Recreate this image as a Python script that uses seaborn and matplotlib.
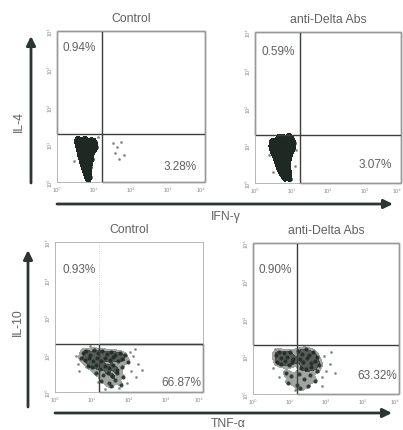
import numpy as np
import pandas as pd
import matplotlib
matplotlib.use("Agg")
import matplotlib.pyplot as plt
from matplotlib.colors import ListedColormap
import seaborn as sns

sns.set_theme(style="white")
plt.rcParams['font.family'] = ['Liberation Sans', 'DejaVu Sans']

# ---- data (log10 fluorescence, in decades) ----
titles = ["Control", "anti-Delta Abs", "Control", "anti-Delta Abs"]
x_markers = ["IFN-γ", "TNF-α"]
y_markers = ["IL-4", "IL-10"]
ul_pct = [0.94, 0.59, 0.93, 0.90]
lr_pct = [3.28, 3.07, 66.87, 63.32]
gate_x = [1.22, 1.22, 1.19, 1.20]
gate_y = [1.27, 1.27, 1.28, 1.30]
decade_labels = ["10⁰", "10¹", "10²", "10³", "10⁴"]

# IL-4 / IFN-γ, control
p1_core_x = [0.52, 0.60, 0.71, 0.80, 0.93, 1.03, 0.55, 0.66, 0.74, 0.86, 0.97, 1.06,
             0.58, 0.69, 0.79, 0.88, 0.99, 0.61, 0.72, 0.83, 0.93, 0.64, 0.75, 0.84,
             0.94, 0.68, 0.78, 0.88, 0.71, 0.81, 0.89, 0.76, 0.86, 0.80, 0.88, 0.84]
p1_core_y = [1.10, 1.13, 1.08, 1.12, 1.09, 1.05, 0.99, 0.97, 1.01, 0.96, 0.98, 0.93,
             0.87, 0.84, 0.88, 0.85, 0.86, 0.74, 0.76, 0.72, 0.75, 0.63, 0.61, 0.64,
             0.60, 0.51, 0.49, 0.52, 0.39, 0.37, 0.40, 0.27, 0.25, 0.15, 0.13, 0.05]
p1_sparse_x = [1.52, 1.62, 1.72, 1.58, 1.80, 1.68, 0.45, 1.12]
p1_sparse_y = [1.02, 0.92, 1.06, 0.78, 0.72, 0.62, 0.55, 1.20]

# IL-4 / IFN-γ, anti-Delta
p2_core_x = [0.66, 0.78, 0.92, 1.00, 0.46, 0.57, 0.69, 0.81, 0.93, 1.07, 0.43, 0.55,
             0.67, 0.79, 0.91, 1.04, 0.50, 0.62, 0.74, 0.86, 0.98, 0.56, 0.68, 0.80,
             0.94, 0.61, 0.73, 0.88, 0.66, 0.78, 0.90, 0.72, 0.84, 0.93, 0.80, 0.95]
p2_core_y = [1.20, 1.18, 1.21, 1.16, 1.08, 1.06, 1.10, 1.07, 1.09, 1.05, 0.95, 0.92,
             0.96, 0.93, 0.97, 0.94, 0.82, 0.80, 0.84, 0.79, 0.81, 0.68, 0.66, 0.70,
             0.65, 0.53, 0.51, 0.55, 0.40, 0.42, 0.38, 0.28, 0.26, 0.29, 0.13, 0.11]
p2_sparse_x = [0.38, 1.12, 0.50, 1.10]
p2_sparse_y = [0.75, 0.88, 0.30, 0.45]

# IL-10 / TNF-α, control
p3_core_x = [0.75, 0.85, 0.95, 1.05, 1.15, 1.28, 1.40, 1.52, 1.62, 1.75, 1.88,
             0.70, 0.82, 0.93, 1.03, 1.14, 1.25, 1.36, 1.48, 1.58, 1.70, 1.82, 1.98,
             0.88, 1.00, 1.12, 1.22, 1.34, 1.46, 1.56, 1.68, 1.80,
             1.10, 1.30, 1.42, 1.55, 1.68, 1.85, 1.25, 1.45, 1.62, 1.78, 1.50]
p3_core_y = [1.05, 1.10, 1.00, 1.12, 1.05, 1.10, 1.02, 1.08, 1.00, 1.05, 0.98,
             0.90, 0.85, 0.92, 0.82, 0.90, 0.84, 0.92, 0.86, 0.94, 0.83, 0.88, 0.80,
             0.70, 0.66, 0.72, 0.62, 0.70, 0.64, 0.72, 0.60, 0.68,
             0.50, 0.45, 0.52, 0.42, 0.50, 0.40, 0.30, 0.25, 0.32, 0.20, 0.15]
p3_sparse_x = [0.58, 0.62, 2.10, 2.25, 2.05, 2.35, 1.95, 0.95, 2.15, 2.20, 1.35,
               0.66, 2.02, 1.15, 1.72]
p3_sparse_y = [0.95, 0.75, 0.95, 0.75, 0.55, 0.60, 0.25, 1.22, 1.15, 0.40, 0.08,
               0.55, 1.08, 0.28, 0.10]

# IL-10 / TNF-α, anti-Delta
p4_core_x = [0.62, 0.70, 0.78, 0.86, 0.94, 1.02, 1.10, 0.66, 0.76, 0.88, 0.98, 1.06,
             1.24, 1.34, 1.44, 1.54, 1.64, 1.74, 1.28, 1.38, 1.48, 1.58, 1.70, 1.82,
             1.32, 1.46, 1.60, 1.75, 0.90, 1.05, 1.25, 1.40, 1.55, 1.70,
             0.95, 1.20, 1.50, 1.30]
p4_core_y = [1.02, 1.12, 0.95, 1.08, 0.98, 1.10, 0.92, 0.85, 0.80, 0.88, 0.78, 0.86,
             1.15, 1.05, 1.18, 1.02, 1.12, 0.98, 0.92, 0.84, 0.95, 0.82, 0.88, 0.78,
             0.70, 0.66, 0.72, 0.62, 0.55, 0.48, 0.52, 0.40, 0.50, 0.35,
             0.30, 0.25, 0.22, 0.15]
p4_sparse_x = [0.55, 1.95, 2.10, 2.25, 1.90, 2.00, 0.72, 1.15, 2.15, 0.60, 1.88]
p4_sparse_y = [0.70, 1.00, 0.80, 0.55, 0.45, 0.60, 0.45, 0.10, 1.10, 1.18, 0.20]

panels = [
    (p1_core_x, p1_core_y, p1_sparse_x, p1_sparse_y),
    (p2_core_x, p2_core_y, p2_sparse_x, p2_sparse_y),
    (p3_core_x, p3_core_y, p3_sparse_x, p3_sparse_y),
    (p4_core_x, p4_core_y, p4_sparse_x, p4_sparse_y),
]
frames = []
for i, (cx, cy, sx, sy) in enumerate(panels):
    frames.append(pd.DataFrame({"panel": i, "kind": "core", "x": cx, "y": cy}))
    frames.append(pd.DataFrame({"panel": i, "kind": "sparse", "x": sx, "y": sy}))
events = pd.concat(frames, ignore_index=True)

# ---- layout ----
W, H = 403, 431
fig = plt.figure(figsize=(W / 100, H / 100), dpi=100)
fig.patch.set_facecolor("white")

boxes_px = [(57, 32, 205, 183), (255, 33, 401, 184),
            (55, 243, 203, 393), (253, 244, 399, 395)]
ul_pos = [(0.15, 3.58), (0.19, 3.50), (0.19, 3.28), (0.16, 3.31)]
lr_pos = [(3.78, 0.42), (3.76, 0.50), (3.95, 0.27), (3.95, 0.50)]

dark = "#3a3f3c"
light = "#a9aca9"
txt = "#5e615f"
blob = "#1f2924"

axes = []
for i, (l, t, r, b) in enumerate(boxes_px):
    ax = fig.add_axes([l / W, 1 - b / H, (r - l) / W, (b - t) / H])
    axes.append(ax)
    d = events[events.panel == i]
    core = d[d.kind == "core"]
    if i < 2:
        sns.kdeplot(data=core, x="x", y="y", fill=True, levels=[0.12, 1],
                    cmap=ListedColormap([blob]), bw_adjust=0.6, ax=ax)
        sns.scatterplot(data=core, x="x", y="y", s=9, color=blob,
                        edgecolor=None, ax=ax)
    else:
        sns.kdeplot(data=core, x="x", y="y", fill=True,
                    levels=[0.15, 0.5, 1],
                    cmap=ListedColormap(["#8f9591", "#39413c"]),
                    bw_adjust=0.55, alpha=0.85, ax=ax)
        sns.scatterplot(data=core, x="x", y="y", s=7, color=blob,
                        edgecolor=None, alpha=0.85, ax=ax)
    sparse = d[d.kind == "sparse"]
    sns.scatterplot(data=sparse, x="x", y="y", s=3, color="#7f8480",
                    edgecolor=None, ax=ax)

    ax.set_xlim(0, 4)
    ax.set_ylim(0, 4)
    ax.set_xlabel("")
    ax.set_ylabel("")
    ax.set_xticks(range(5))
    ax.set_yticks(range(5))
    ax.set_xticklabels(decade_labels, fontsize=4, color="#8c8f8d")
    ax.get_xticklabels()[-1].set_horizontalalignment("right")
    ax.set_yticklabels(decade_labels, fontsize=4, color="#8c8f8d",
                       rotation=90, va="center")
    ax.tick_params(length=2, width=0.5, color="#9a9d9a", pad=1.5)
    for s in ax.spines.values():
        s.set_color(light)
        s.set_linewidth(0.6)

    gx, gy = gate_x[i], gate_y[i]
    kw = dict(color=dark, lw=1.0, clip_on=False, solid_capstyle="butt")
    if i == 2:
        ax.plot([0, 4], [gy, gy], **kw)
        ax.plot([gx, gx, 4, 4, gx], [0, gy, gy, 0, 0], **kw)
        ax.plot([gx, gx], [gy, 4], color="#c4c6c4", lw=0.6, ls=":")
    else:
        ax.plot([0, 0, 4, 4], [gy, 4, 4, 0], **kw)
        ax.plot([gx, gx], [0, 4], **kw)
        ax.plot([0, 4], [gy, gy], **kw)
        ax.plot([gx, 4], [0, 0], **kw)

    ax.set_title(titles[i], fontsize=8.8, color=txt, pad=7)
    ax.text(*ul_pos[i], f"{ul_pct[i]:.2f}%", fontsize=8.5, color=txt,
            ha="left", va="center")
    ax.text(*lr_pos[i], f"{lr_pct[i]:.2f}%", fontsize=8.5, color=txt,
            ha="right", va="center")

# marker arrows and names in pixel space
ov = fig.add_axes([0, 0, 1, 1], facecolor="none")
ov.set_xlim(0, W)
ov.set_ylim(H, 0)
ov.axis("off")
arrow = dict(arrowstyle="-|>,head_length=0.45,head_width=0.22", lw=2.0,
             color="#2d3531", shrinkA=0, shrinkB=0)
ov.annotate("", xy=(393, 205), xytext=(57, 205), arrowprops=arrow)
ov.annotate("", xy=(392, 414), xytext=(55, 414), arrowprops=arrow)
ov.annotate("", xy=(31, 37), xytext=(31, 184), arrowprops=arrow)
ov.annotate("", xy=(28, 251), xytext=(28, 408), arrowprops=arrow)
ov.text(226, 217, x_markers[0], fontsize=8.8, color=txt, ha="center", va="center")
ov.text(228, 424, x_markers[1], fontsize=8.8, color=txt, ha="center", va="center")
ov.text(19, 122, y_markers[0], fontsize=8.8, color=txt, ha="center",
        va="center", rotation=90)
ov.text(18, 322, y_markers[1], fontsize=8.8, color=txt, ha="center",
        va="center", rotation=90)

fig.savefig("out.png", dpi=100)
